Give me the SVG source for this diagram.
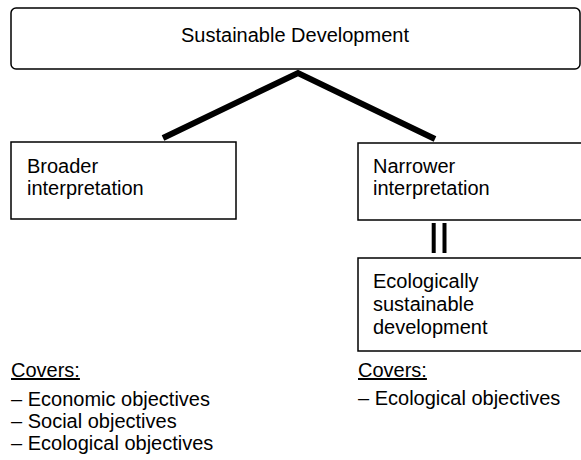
<svg xmlns="http://www.w3.org/2000/svg" width="581" height="460" viewBox="0 0 581 460">
<style>
text{font-family:"Liberation Sans",Arial,sans-serif;font-size:20px;fill:#000}
.box{fill:#fff;stroke:#000;stroke-width:1.5}
.u{text-decoration:underline}
</style>
<rect width="581" height="460" fill="#fff"/>
<g id="connectors" stroke="#000" fill="none">
<polyline points="163,138 298,73 435,139" stroke-width="6" stroke-linejoin="miter"/>
<line x1="433.7" y1="223" x2="433.7" y2="253" stroke-width="4"/>
<line x1="444.5" y1="223" x2="444.5" y2="253" stroke-width="4"/>
</g>
<g id="sustainable-development">
<rect class="box" x="11" y="8" width="569" height="61" rx="5"/>
<text x="295" y="42" text-anchor="middle">Sustainable Development</text>
</g>
<g id="broader">
<rect class="box" x="11" y="142" width="225" height="77"/>
<text x="27" y="173">Broader</text>
<text x="27" y="195">interpretation</text>
</g>
<g id="narrower">
<rect class="box" x="358" y="143" width="230" height="77"/>
<text x="373" y="173">Narrower</text>
<text x="373" y="195">interpretation</text>
</g>
<g id="ecological">
<rect class="box" x="358" y="258" width="230" height="93"/>
<text x="373" y="288">Ecologically</text>
<text x="373" y="311">sustainable</text>
<text x="373" y="334">development</text>
</g>
<g id="covers-left">
<text class="u" x="11" y="377">Covers:</text>
<text x="11" y="406">– Economic objectives</text>
<text x="11" y="428">– Social objectives</text>
<text x="11" y="450">– Ecological objectives</text>
</g>
<g id="covers-right">
<text class="u" x="358" y="377">Covers:</text>
<text x="358" y="405">– Ecological objectives</text>
</g>
</svg>
